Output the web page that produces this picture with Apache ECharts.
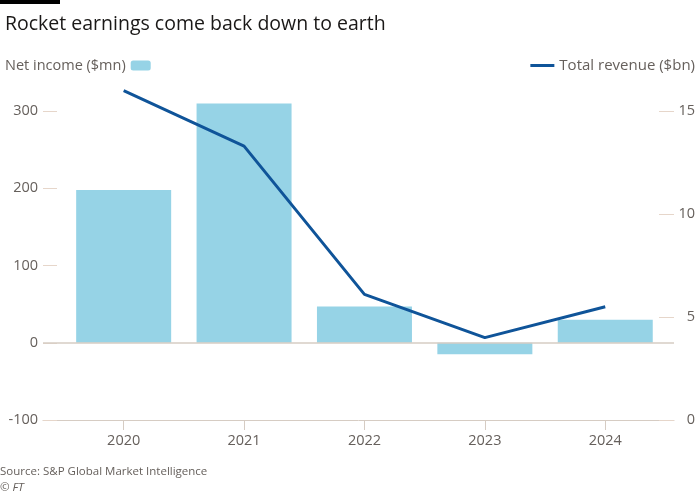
<!DOCTYPE html>
<html>
<head>
<meta charset="utf-8">
<script src="https://cdn.jsdelivr.net/npm/echarts@6/dist/echarts.min.js"></script>
<style>html,body{margin:0;padding:0;background:#fff}#c{width:700px;height:500px}</style>
</head>
<body>
<div id="c"></div>
<script>
const years = [2020, 2021, 2022, 2023, 2024];
const netIncome = [198, 310, 47, -15, 30];
const totalRevenue = [16.0, 13.3, 6.1, 4.0, 5.5];
const leftTicks = [-100, 0, 100, 200, 300];
const rightTicks = [0, 5, 10, 15];

const FONT = 'Open Sans';
const GRAY = '#66605c';
const chart = echarts.init(document.getElementById('c'));
chart.setOption({
  backgroundColor: '#fff',
  textStyle: { fontFamily: FONT },
  animation: false,
  title: {
    text: 'Rocket earnings come back down to earth',
    left: 0, top: 9,
    textStyle: { fontFamily: FONT, fontSize: 19.5, fontWeight: 'normal', color: '#1a1817' }
  },
  graphic: [
    { type: 'rect', left: 0, top: 0, shape: { width: 60, height: 4 }, style: { fill: '#000' } },
    { type: 'text', left: 0, top: 466, style: { text: 'Source: S&P Global Market Intelligence', fontFamily: FONT, fontSize: 11.5, fill: GRAY } },
    { type: 'text', left: 0, top: 482, style: { text: '© FT', fontFamily: FONT, fontSize: 11.5, fontStyle: 'italic', fill: GRAY } }
  ],
  legend: [
    {
      data: ['Net income ($mn)'], left: 0, top: 53, align: 'right',
      itemWidth: 20, itemHeight: 10, itemGap: 6,
      textStyle: { fontFamily: FONT, fontSize: 14.5, color: GRAY }
    },
    {
      data: [{ name: 'Total revenue ($bn)', icon: 'rect' }], right: 0, top: 53,
      itemWidth: 24, itemHeight: 3,
      textStyle: { fontFamily: FONT, fontSize: 15, color: GRAY }
    }
  ],
  grid: { left: 43, right: 26, top: 88, bottom: 80, containLabel: false, outerBoundsMode: 'none' },
  xAxis: {
    type: 'value', min: 2019.33, max: 2024.571,
    axisLine: { show: true, onZero: false, lineStyle: { color: '#d6ccc3', width: 1 } },
    axisTick: { show: true, customValues: years, length: 10, lineStyle: { color: '#d6ccc3' } },
    axisLabel: { customValues: years, formatter: v => String(v), color: GRAY, fontSize: 14.5, margin: 13, fontFamily: FONT },
    splitLine: { show: false }
  },
  yAxis: [
    {
      type: 'value', min: -100, max: 330, position: 'left',
      axisLine: { show: false },
      axisTick: { show: true, inside: true, length: 14, customValues: leftTicks, lineStyle: { color: '#e6d6ca' } },
      axisLabel: { customValues: leftTicks, color: GRAY, fontSize: 14.5, margin: 5, fontFamily: FONT },
      splitLine: { show: false }
    },
    {
      type: 'value', min: 0, max: 16.125, position: 'right',
      axisLine: { show: false },
      axisTick: { show: true, inside: true, length: 15, customValues: rightTicks, lineStyle: { color: '#e6d6ca' } },
      axisLabel: {
        customValues: rightTicks, margin: 4, align: 'left',
        formatter: v => '{a|' + v + '}',
        rich: { a: { width: 17, align: 'right', color: GRAY, fontSize: 14.5, fontFamily: FONT } }
      },
      splitLine: { show: false }
    }
  ],
  series: [
    {
      name: 'Net income ($mn)', type: 'bar', yAxisIndex: 0, barWidth: 95,
      data: years.map((y, i) => [y, netIncome[i]]),
      itemStyle: { color: '#96d3e6' },
      markLine: {
        silent: true, symbol: 'none', label: { show: false },
        lineStyle: { color: '#d6ccc3', width: 1.5, type: 'solid' },
        data: [{ yAxis: 0 }]
      }
    },
    {
      name: 'Total revenue ($bn)', type: 'line', yAxisIndex: 1,
      data: years.map((y, i) => [y, totalRevenue[i]]),
      symbol: 'none', lineStyle: { color: '#0f5499', width: 3 }, itemStyle: { color: '#0f5499' }
    }
  ]
});
</script>
</body>
</html>
